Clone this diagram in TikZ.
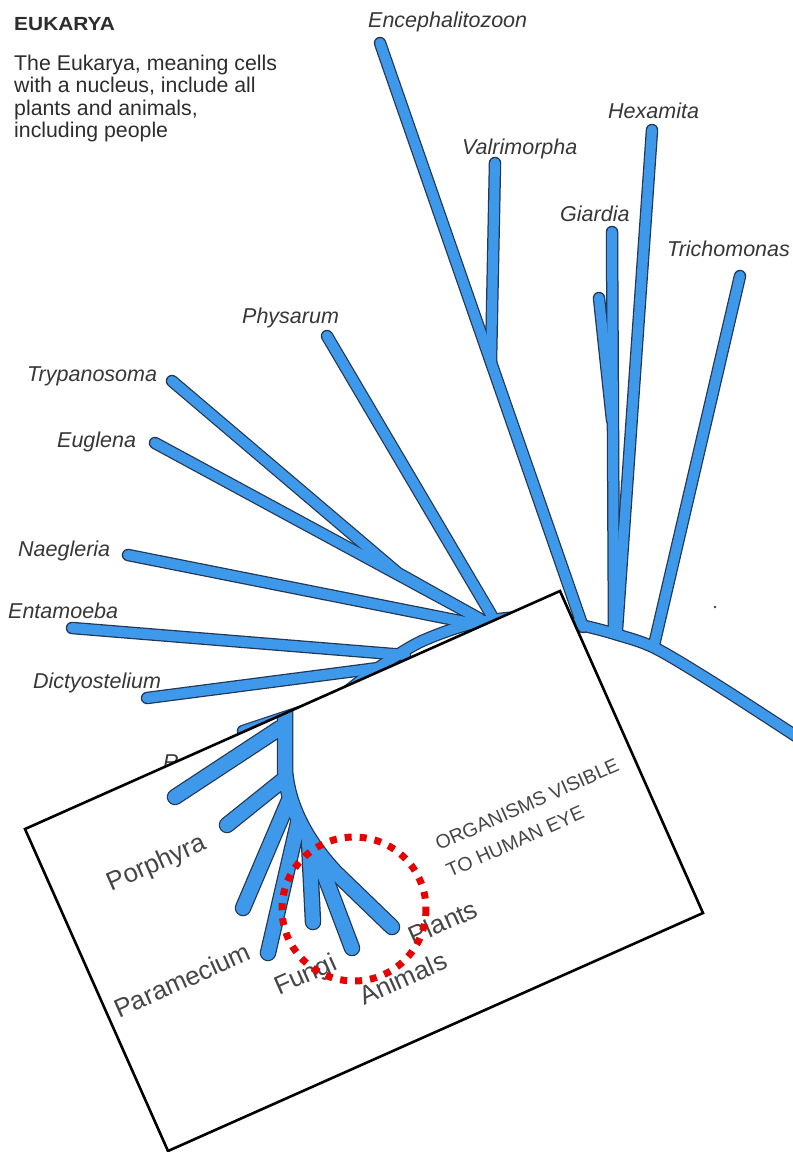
\documentclass[tikz,border=0pt]{standalone}
\usepackage{fontspec}
\setmainfont{Liberation Sans}
\definecolor{treeblue}{RGB}{62,153,234}
\definecolor{treeout}{RGB}{35,55,85}
\definecolor{labgrey}{RGB}{55,55,55}
\definecolor{txtgrey}{RGB}{45,45,45}
\definecolor{boxgrey}{RGB}{70,70,70}
\definecolor{dotred}{RGB}{232,0,0}
\newcommand\mybranches[1]{%
  \draw[#1] plot[smooth] coordinates {(300,728) (345,693) (378,668) (420,642) (470,624) (520,617) (555,620) (585,626) (615,634) (655,648) (717,685) (805,742)};
  \draw[#1] (encT) -- (encB);
  \draw[#1] (valT) -- (valB);
  \draw[#1] (hexT) -- (hexB);
  \draw[#1] (giaT) -- (giaB);
  \draw[#1] (shoT) -- (shoB);
  \draw[#1] (triT) -- (triB);
  \draw[#1] (phyT) -- (phyB);
  \draw[#1] (tryT) -- (tryM) -- (clu);
  \draw[#1] (eugT) -- (clu);
  \draw[#1] (naeT) -- (naeB);
  \draw[#1] (entT) -- (entB);
  \draw[#1] (dicT) -- (dicB);
  \draw[#1] (rT) -- (rB);
}
\newcommand\myinset[1]{%
  \draw[#1] (sTop) -- (285,770) .. controls (288,810) and (310,845) .. (sJ) -- (plaT);
  \draw[#1] (b1T) -- (b1B);
  \draw[#1] (b2T) -- (b2B);
  \draw[#1] (b3T) -- (b3B);
  \draw[#1] (parT) -- (parB);
  \draw[#1] (funT) -- (funB);
  \draw[#1] (aniT) -- (aniB);
}
\begin{document}
\begin{tikzpicture}[x=1pt,y=-1pt,
  brO/.style={line width=12.5pt, draw=treeout, line cap=round},
  brF/.style={line width=10pt, draw=treeblue, line cap=round},
  inO/.style={line width=16.5pt, draw=treeout, line cap=round, line join=round},
  inF/.style={line width=14pt, draw=treeblue, line cap=round, line join=round},
  lab/.style={font=\fontsize{21.5}{23}\selectfont\itshape, text=labgrey, inner sep=0pt, anchor=base west},
  inlab/.style={font=\fontsize{26}{30}\selectfont, text=boxgrey, inner sep=0pt, rotate=24},
  caplab/.style={font=\fontsize{19.5}{21}\selectfont, text=boxgrey, inner sep=0pt, rotate=24},
  body/.style={font=\fontsize{21.3}{22.5}\selectfont, text=txtgrey, inner sep=0pt, anchor=base west},
  boxline/.style={draw=black, line width=2.6pt, line join=miter},
  redring/.style={draw=dotred, line width=7pt, dash pattern=on 7pt off 8pt}
]
\useasboundingbox[fill=white] (0,0) rectangle (793,1152);

% main tree coordinates
\coordinate (encT) at (380,43);  \coordinate (encB) at (583,627);
\coordinate (valT) at (495,163); \coordinate (valB) at (491,362);
\coordinate (hexT) at (652,130); \coordinate (hexB) at (617,630);
\coordinate (giaT) at (612,232); \coordinate (giaB) at (614,632);
\coordinate (shoT) at (599,298); \coordinate (shoB) at (612,420);
\coordinate (triT) at (740,276); \coordinate (triB) at (654,645);
\coordinate (phyT) at (327,336); \coordinate (phyB) at (492,616);
\coordinate (tryT) at (172,381); \coordinate (tryM) at (398,573);
\coordinate (clu)  at (480,619);
\coordinate (eugT) at (155,443);
\coordinate (naeT) at (128,555); \coordinate (naeB) at (470,623);
\coordinate (entT) at (72,628);  \coordinate (entB) at (405,655);
\coordinate (dicT) at (147,698); \coordinate (dicB) at (378,668);
\coordinate (rT)   at (243,731); \coordinate (rB)   at (330,702);

\mybranches{brO}
\mybranches{brF}

% header text
\node[body, font=\fontsize{19}{21}\selectfont\bfseries, xscale=1.1] (title) at (14,30) {EUKARYA};
\node[body] (l1) at (14,70) {The Eukarya, meaning cells};
\node[body] (l2) at (14,92.5) {with a nucleus, include all};
\node[body] (l3) at (14,115) {plants and animals,};
\node[body] (l4) at (14,137.5) {including people};

% labels
\node[lab] (encL) at (368,27) {Encephalitozoon};
\node[lab] (valL) at (462,154) {Valrimorpha};
\node[lab] (hexL) at (608,118) {Hexamita};
\node[lab] (giaL) at (560,221) {Giardia};
\node[lab] (triL) at (667,256) {Trichomonas};
\node[lab] (phyL) at (242,323) {Physarum};
\node[lab] (tryL) at (27,381) {Trypanosoma};
\node[lab] (eugL) at (57,447) {Euglena};
\node[lab] (naeL) at (18,556) {Naegleria};
\node[lab] (entL) at (8,618) {Entamoeba};
\node[lab] (dicL) at (33,688) {Dictyostelium};
\node[lab] (rL) at (163,769) {R};

\fill[black!75] (715,607) circle[radius=1.4];

% inset box
\coordinate (bxL) at (25,829);
\coordinate (bxT) at (560,591);
\coordinate (bxR) at (703,913);
\coordinate (bxB) at (168,1151);
\fill[white] (bxL) -- (bxT) -- (bxR) -- (bxB) -- cycle;

% inset tree
\coordinate (sTop) at (285,700);
\coordinate (sJ) at (335,872);
\coordinate (plaT) at (392,927);
\coordinate (b1T) at (175,797); \coordinate (b1B) at (280,728);
\coordinate (b2T) at (227,825); \coordinate (b2B) at (283,780);
\coordinate (b3T) at (243,908); \coordinate (b3B) at (289,800);
\coordinate (parT) at (268,953); \coordinate (parB) at (298,823);
\coordinate (funT) at (313,922); \coordinate (funB) at (309,842);
\coordinate (aniT) at (352,948); \coordinate (aniB) at (321,866);
\begin{scope}
  \clip (bxL) -- (bxT) -- (bxR) -- (bxB) -- cycle;
  \myinset{inO}
  \myinset{inF}
\end{scope}
\draw[boxline] (bxL) -- (bxT) -- (bxR) -- (bxB) -- cycle;

% inset labels
\node[inlab] (porL) at (157,864) {Porphyra};
\node[inlab] (parL) at (182,980) {Paramecium};
\node[inlab] (funL) at (306,976) {Fungi};
\node[inlab] (aniL) at (403,978) {Animals};
\node[inlab] (plaL) at (443,922) {Plants};
\node[caplab, anchor=base west] (orgL1) at (439,851) {ORGANISMS VISIBLE};
\node[caplab, anchor=base west] (orgL2) at (450,878) {TO HUMAN EYE};

% red dotted ring
\draw[redring] (354,909) circle[radius=72];
\end{tikzpicture}
\end{document}
